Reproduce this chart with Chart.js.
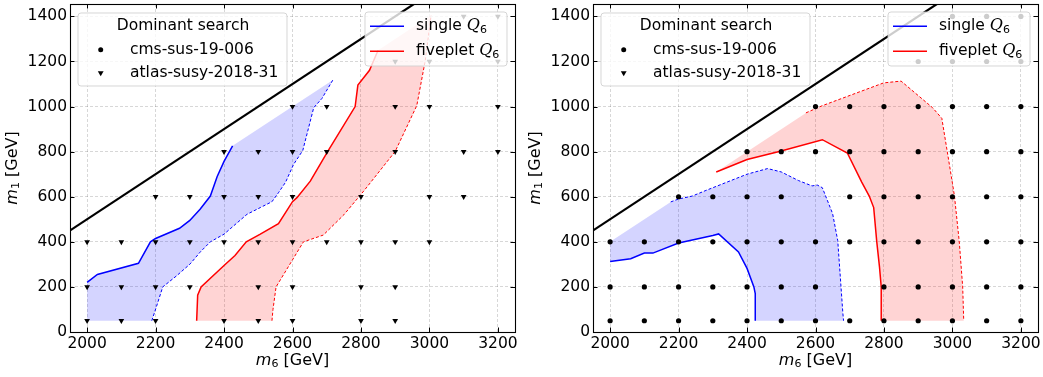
<!DOCTYPE html>
<html>
<head>
<meta charset="utf-8">
<script src="https://cdn.jsdelivr.net/npm/chart.js@4"></script>
<style>
  html, body { margin: 0; padding: 0; background: #fff; }
  #wrap { position: relative; width: 1043px; height: 377px; }
  .panel { position: absolute; top: 0; width: 520px; height: 377px; }
</style>
</head>
<body>
<div id="wrap">
  <div class="panel" style="left:0"><canvas id="leftChart" width="520" height="377"></canvas></div>
  <div class="panel" style="left:523px"><canvas id="rightChart" width="520" height="377"></canvas></div>
</div>
<script>
const FONT = '"DejaVu Sans", sans-serif';

// axes
const xTicks = [2000, 2200, 2400, 2600, 2800, 3000, 3200];
const yTicks = [0, 200, 400, 600, 800, 1000, 1200, 1400];
const xRange = [1950, 3250];
const yRange = [0, 1455];

// grid rows in m1, and the m6 values where a marker sits in each row
const m1Rows = [50, 200, 400, 600, 800, 1000, 1200, 1400];

// left panel: atlas-susy-2018-31 dominates everywhere
const leftAtlasM6 = [
  [2000, 2100, 2200, 2400, 2500, 2600, 2800, 2900],
  [2000, 2100, 2200, 2300, 2500, 2600, 2800, 2900],
  [2000, 2100, 2200, 2300, 2400, 2500, 2600, 2700, 2800, 2900, 3000],
  [2200, 2300, 2400, 2500, 2600, 2800, 3000, 3100],
  [2400, 2500, 2600, 2700, 2900, 3100, 3200],
  [2600, 2700, 2900, 3000, 3200],
  [2900, 3000, 3200],
  [3100, 3200]
];
// right panel: cms-sus-19-006 dominates everywhere
const rightCmsM6 = [
  [2000, 2100, 2200, 2300, 2400, 2500, 2600, 2700, 2800, 2900, 3000, 3100, 3200],
  [2000, 2100, 2200, 2300, 2400, 2500, 2600, 2800, 2900, 3000, 3100, 3200],
  [2000, 2100, 2200, 2300, 2400, 2500, 2600, 2700, 2800, 2900, 3000, 3100, 3200],
  [2200, 2300, 2400, 2500, 2700, 2800, 2900, 3000, 3100, 3200],
  [2400, 2500, 2600, 2700, 2800, 2900, 3000, 3100, 3200],
  [2600, 2700, 2800, 2900, 3000, 3100, 3200],
  [2900, 3000, 3100, 3200],
  [3000, 3100, 3200]
];

// kinematic line m1 = m6 - 1500
const diagonal = [[1900, 400], [3300, 1800]];

// exclusion contours [m6, m1]
const leftSingleSolid = [[2000, 220], [2030, 255], [2150, 305], [2185, 400], [2200, 415], [2270, 460], [2300, 495],
  [2330, 545], [2360, 603], [2380, 690], [2400, 757], [2425, 826]];
const leftSingleDashed = [[2189, 50], [2202, 110], [2221, 200], [2262, 250], [2301, 302], [2330, 354], [2360, 400],
  [2400, 434], [2467, 522], [2506, 552], [2540, 578], [2560, 620], [2580, 665], [2603, 743], [2630, 805],
  [2662, 995], [2686, 1036], [2718, 1118]];
const leftFiveSolid = [[2320, 50], [2323, 163], [2333, 200], [2400, 295], [2432, 339], [2465, 400], [2506, 434],
  [2559, 481], [2600, 578], [2613, 596], [2652, 669], [2703, 801], [2783, 1000], [2791, 1095], [2825, 1161],
  [2850, 1250]];
const leftFiveDashed = [[2540, 50], [2543, 100], [2552, 200], [2600, 320], [2632, 400], [2690, 430], [2750, 520],
  [2808, 625], [2900, 801], [2963, 1004], [2988, 1205], [3005, 1405]];

const rightSingleSolid = [[2000, 313], [2060, 325], [2100, 350], [2125, 350], [2200, 395], [2300, 428], [2317, 435],
  [2375, 355], [2400, 282], [2420, 200], [2424, 170], [2424, 50]];
const rightSingleDashed = [[2177, 577], [2200, 590], [2240, 603], [2280, 628], [2400, 700], [2460, 725], [2500, 710],
  [2550, 672], [2590, 648], [2605, 652], [2620, 640], [2650, 525], [2665, 405], [2680, 82], [2682, 50]];
const rightFiveSolid = [[2310, 710], [2400, 765], [2494, 801], [2620, 853], [2693, 794], [2735, 665], [2757, 603],
  [2770, 552], [2779, 400], [2787, 288], [2792, 200], [2792, 50]];
const rightFiveDashed = [[2572, 972], [2620, 1004], [2799, 1105], [2850, 1113], [2942, 995], [2969, 948], [3000, 660],
  [3006, 603], [3020, 400], [3030, 200], [3033, 50]];

const legendTitle = 'Dominant search';
const searchNames = ['cms-sus-19-006', 'atlas-susy-2018-31'];
const lineNames = ['single', 'fiveplet'];

const BLUE = '#0000ff', RED = '#ff0000';
const BLUE_FILL = 'rgba(0, 0, 255, 0.17)', RED_FILL = 'rgba(255, 0, 0, 0.17)';

const pts = arr => arr.map(([x, y]) => ({ x, y }));
const rowPoints = rows => rows.flatMap((r, i) => r.map(x => ({ x, y: m1Rows[i] })));

// draw a run of [text, font, dy] pieces, centred on x
function drawPieces(ctx, pieces, x, y) {
  let w = 0;
  pieces.forEach(p => { ctx.font = p[1]; w += ctx.measureText(p[0]).width; });
  let cx = x - w / 2;
  ctx.textAlign = 'left';
  pieces.forEach(p => {
    ctx.font = p[1];
    ctx.fillText(p[0], cx, y + (p[2] || 0));
    cx += ctx.measureText(p[0]).width;
  });
}

function roundBox(ctx, x, y, w, h) {
  ctx.beginPath();
  ctx.roundRect(x, y, w, h, 3);
  ctx.fillStyle = 'rgba(255,255,255,0.8)';
  ctx.fill();
  ctx.strokeStyle = 'rgba(204,204,204,0.8)';
  ctx.lineWidth = 1;
  ctx.stroke();
}

const framePlugin = {
  id: 'frame',
  afterDraw(chart) {
    const { ctx, chartArea: a, scales } = chart;
    ctx.save();
    // inward ticks on all four sides
    ctx.strokeStyle = '#000';
    ctx.lineWidth = 1;
    ctx.beginPath();
    xTicks.forEach(v => {
      const px = Math.round(scales.x.getPixelForValue(v)) + 0.5;
      ctx.moveTo(px, a.bottom); ctx.lineTo(px, a.bottom - 4.5);
      ctx.moveTo(px, a.top); ctx.lineTo(px, a.top + 4.5);
    });
    yTicks.forEach(v => {
      const py = Math.round(scales.y.getPixelForValue(v)) + 0.5;
      ctx.moveTo(a.left, py); ctx.lineTo(a.left + 4.5, py);
      ctx.moveTo(a.right, py); ctx.lineTo(a.right - 4.5, py);
    });
    ctx.stroke();
    ctx.lineWidth = 1.1;
    ctx.strokeRect(a.left + 0.5, a.top + 0.5, a.width, a.height);

    // axis titles
    ctx.fillStyle = '#000';
    ctx.textBaseline = 'middle';
    drawPieces(ctx, [['m', 'italic 16px ' + FONT], ['6', '11px ' + FONT, 3.5], [' [GeV]', '16px ' + FONT]],
      a.left + a.width / 2, 361);
    ctx.save();
    ctx.translate(13, a.top + a.height / 2);
    ctx.rotate(-Math.PI / 2);
    drawPieces(ctx, [['m', 'italic 16px ' + FONT], ['1', '11px ' + FONT, 3.5], [' [GeV]', '16px ' + FONT]], 0, 0);
    ctx.restore();

    // legend: dominant search
    const lx = a.left + 8, ly = a.top + 9;
    roundBox(ctx, lx, ly, 209, 73);
    ctx.fillStyle = '#000';
    ctx.font = '15.5px ' + FONT;
    ctx.textAlign = 'center';
    ctx.fillText(legendTitle, lx + 105, ly + 12.5);
    ctx.textAlign = 'left';
    ctx.fillText(searchNames[0], lx + 52, ly + 36.5);
    ctx.fillText(searchNames[1], lx + 52, ly + 60);
    ctx.beginPath();
    ctx.arc(lx + 22.7, ly + 36.7, 2.5, 0, Math.PI * 2);
    ctx.fill();
    ctx.beginPath();
    ctx.moveTo(lx + 19.8, ly + 58.3); ctx.lineTo(lx + 25.6, ly + 58.3); ctx.lineTo(lx + 22.7, ly + 63.2);
    ctx.closePath();
    ctx.fill();

    // legend: contours
    const bw = 142, bx = a.right - 8 - bw, by = a.top + 8;
    roundBox(ctx, bx, by, bw, 54);
    [[BLUE, lineNames[0], 14.3], [RED, lineNames[1], 39.3]].forEach(([c, name, dy]) => {
      ctx.strokeStyle = c;
      ctx.lineWidth = 1.5;
      ctx.beginPath();
      ctx.moveTo(bx + 5, by + dy); ctx.lineTo(bx + 39, by + dy);
      ctx.stroke();
      ctx.fillStyle = '#000';
      ctx.font = '15.5px ' + FONT;
      ctx.textAlign = 'left';
      const t = name + ' ';
      ctx.fillText(t, bx + 51, by + dy);
      let cx = bx + 51 + ctx.measureText(t).width;
      ctx.font = 'italic 16px "DejaVu Serif", serif';
      ctx.fillText('Q', cx, by + dy);
      cx += ctx.measureText('Q').width;
      ctx.font = '11px ' + FONT;
      ctx.fillText('6', cx, by + dy + 3.5);
    });
    ctx.restore();
  }
};

function lineSet(data, color, width, dash, order) {
  return {
    data: pts(data), borderColor: color, borderWidth: width, borderDash: dash || [],
    pointRadius: 0, fill: false, order
  };
}
function fillSet(data, color) {
  return {
    data: pts(data), backgroundColor: color, borderWidth: 0, borderColor: 'rgba(0,0,0,0)',
    pointRadius: 0, fill: 'shape', order: 9
  };
}

function makeChart(id, cfg) {
  const tickFont = { family: FONT, size: 15.5 };
  new Chart(document.getElementById(id), {
    type: 'line',
    data: {
      datasets: [
        fillSet(cfg.blueFill, BLUE_FILL),
        fillSet(cfg.redFill, RED_FILL),
        lineSet(diagonal, '#000', 2.2, null, 2),
        lineSet(cfg.blueSolid, BLUE, 1.5, null, 3),
        lineSet(cfg.blueDashed, BLUE, 1, [3, 2], 3),
        lineSet(cfg.redSolid, RED, 1.5, null, 3),
        lineSet(cfg.redDashed, RED, 1, [3, 2], 3),
        {
          data: rowPoints(cfg.rows), showLine: false, pointStyle: cfg.marker,
          pointRotation: cfg.marker === 'triangle' ? 180 : 0,
          pointRadius: cfg.marker === 'triangle' ? 3.3 : 2.6,
          pointBackgroundColor: '#000', pointBorderWidth: 0, borderColor: '#000', order: 0
        }
      ]
    },
    options: {
      responsive: false,
      animation: false,
      devicePixelRatio: 1,
      layout: { padding: { left: 0, right: 5, top: 1, bottom: 0 } },
      plugins: { legend: { display: false }, tooltip: { enabled: false } },
      scales: {
        x: {
          type: 'linear', min: xRange[0], max: xRange[1],
          afterBuildTicks: s => { s.ticks = xTicks.map(v => ({ value: v })); },
          afterFit: s => { s.height = 45; s.paddingLeft = 0; s.paddingRight = 0; },
          ticks: { font: tickFont, color: '#000', padding: 3, maxRotation: 0, autoSkip: false, callback: v => String(v) },
          grid: { color: 'rgba(0,0,0,0.2)', lineWidth: 0.8, drawTicks: false },
          border: { display: false, dash: [3, 2] }
        },
        y: {
          type: 'linear', min: yRange[0], max: yRange[1],
          afterBuildTicks: s => { s.ticks = yTicks.map(v => ({ value: v })); },
          afterFit: s => { s.width = 70; s.paddingTop = 0; s.paddingBottom = 0; },
          ticks: { font: tickFont, color: '#000', padding: 3, autoSkip: false, callback: v => String(v) },
          grid: { color: 'rgba(0,0,0,0.2)', lineWidth: 0.8, drawTicks: false },
          border: { display: false, dash: [3, 2] }
        }
      }
    },
    plugins: [framePlugin]
  });
}

makeChart('leftChart', {
  rows: leftAtlasM6, marker: 'triangle',
  blueSolid: leftSingleSolid, blueDashed: leftSingleDashed,
  redSolid: leftFiveSolid, redDashed: leftFiveDashed,
  blueFill: [[2000, 50], ...leftSingleSolid, ...leftSingleDashed.slice().reverse()],
  redFill: [...leftFiveSolid, ...leftFiveDashed.slice().reverse()]
});

makeChart('rightChart', {
  rows: rightCmsM6, marker: 'circle',
  blueSolid: rightSingleSolid, blueDashed: rightSingleDashed,
  redSolid: rightFiveSolid, redDashed: rightFiveDashed,
  blueFill: [[2000, 400], ...rightSingleDashed, ...rightSingleSolid.slice().reverse()],
  redFill: [...rightFiveSolid, ...rightFiveDashed.slice().reverse()]
});
</script>
</body>
</html>
